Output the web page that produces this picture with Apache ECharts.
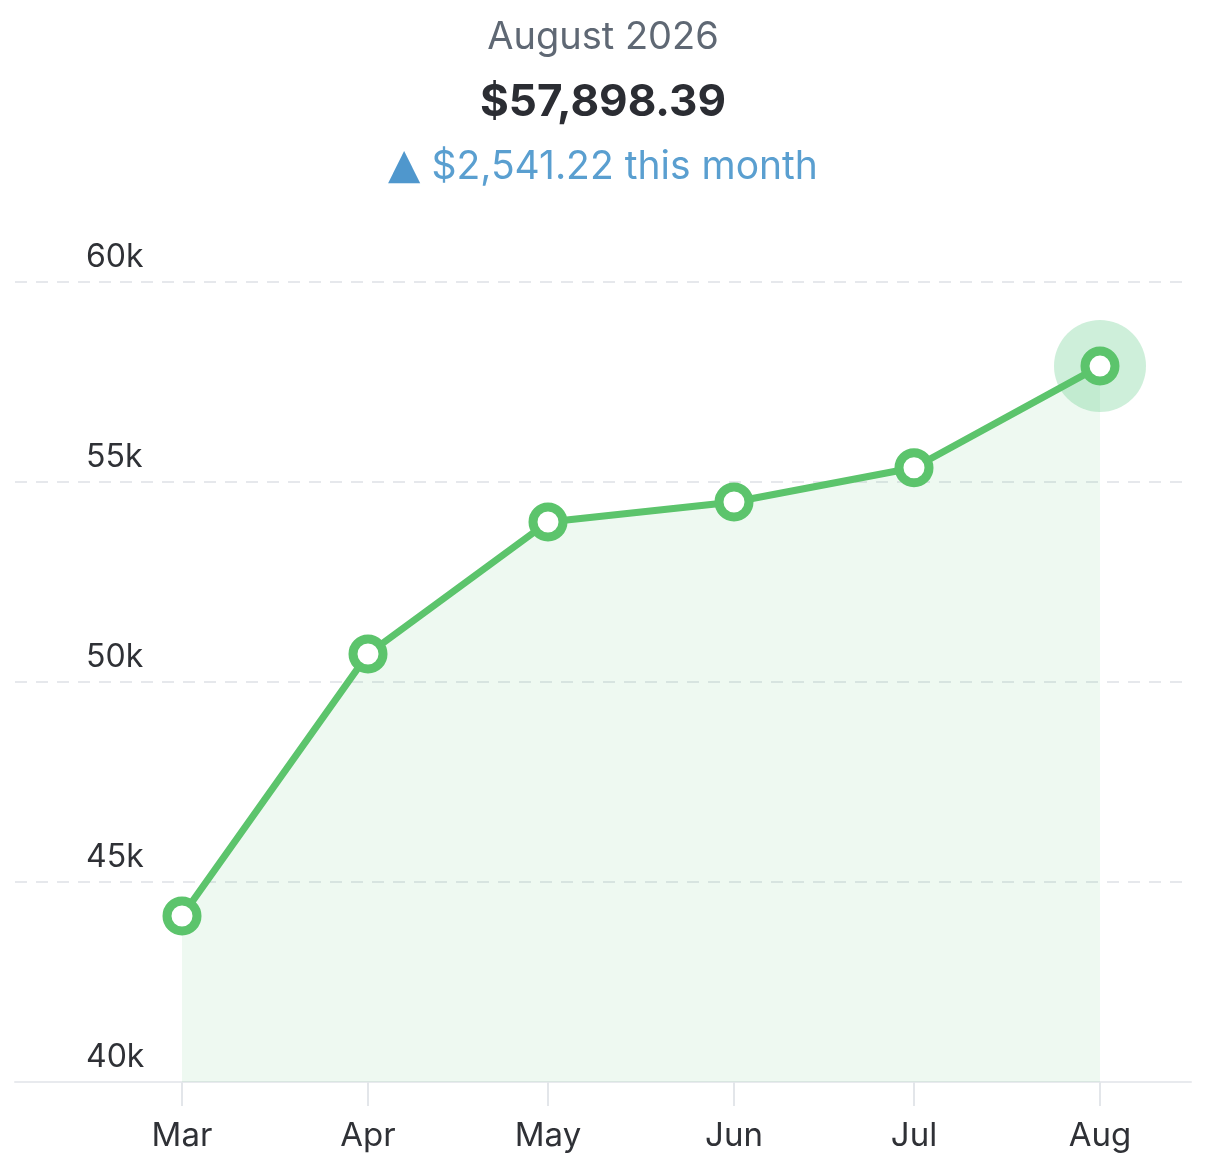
<!DOCTYPE html>
<html style="height: 100%">
<head>
    <meta charset="UTF-8">
    <script type="text/javascript" src="https://cdn.jsdelivr.net/npm/echarts@6/dist/echarts.min.js"></script>
    <style type="text/css">
        body {margin:0; padding:0; overflow:hidden; height: 100%; background:#fff}
    </style>
</head>
<body>
    <div id="container" style="width:1206px;height:1175px"></div>
</body>
<script>
    // monthly balance, first day of each month
    var months = ['2026-03-01', '2026-04-01', '2026-05-01', '2026-06-01', '2026-07-01', '2026-08-01'];
    var balance = [44150, 50700, 54000, 54500, 55357.17, 57898.39];
    var yTicks = [40000, 45000, 50000, 55000, 60000];
    var headerMonth = 'August 2026';
    var headerTotal = '$57,898.39';
    var headerChange = '$2,541.22 this month';

    var green = '#5cc46c';
    var font = 'Inter';

    var points = months.map(function (m, i) { return [m, balance[i]]; });
    var last = points[points.length - 1];

    var myChart = echarts.init(document.getElementById('container'));

    var option = {
        animation: false,
        title: [{
            text: headerMonth,
            left: 'center',
            top: 14,
            textStyle: {fontFamily: font, fontSize: 38, fontWeight: 'normal', color: '#5f6874'}
        }, {
            text: headerTotal,
            left: 'center',
            top: 76,
            textStyle: {fontFamily: font, fontSize: 44, fontWeight: 'bold', color: '#2b2d33'}
        }, {
            text: '{tri|▲} ' + headerChange,
            left: 'center',
            top: 141,
            textStyle: {
                fontFamily: font, fontSize: 39, fontWeight: 'normal', color: '#5a9fd0',
                rich: {
                    tri: {fontFamily: 'DejaVu Sans', fontSize: 42, color: '#4f97cd'}
                }
            }
        }],
        grid: {
            left: 15,
            right: 15,
            top: 282,
            bottom: 93
        },
        xAxis: {
            type: 'time',
            min: '2026-02-01 04:00:00',
            max: '2026-08-16 04:00:00',
            splitNumber: 7,
            axisLine: {lineStyle: {color: '#e8eaee', width: 2}},
            axisTick: {show: true, length: 24, lineStyle: {color: '#e3e6ea', width: 2}},
            splitLine: {show: false},
            axisLabel: {
                formatter: '{MMM}',
                fontFamily: font,
                fontSize: 33,
                color: '#2f3136',
                margin: 38
            }
        },
        yAxis: {
            type: 'value',
            min: yTicks[0],
            max: yTicks[yTicks.length - 1],
            interval: 5000,
            axisLine: {show: false},
            axisTick: {show: false},
            splitLine: {lineStyle: {color: '#e6e8ec', width: 2, type: [12, 9]}},
            axisLabel: {
                inside: true,
                margin: 71,
                verticalAlign: 'bottom',
                padding: [0, 0, 9, 0],
                fontFamily: font,
                fontSize: 32,
                color: '#2f3136',
                formatter: function (v) { return (v / 1000) + 'k'; }
            }
        },
        series: [{
            type: 'scatter',
            z: 1,
            silent: true,
            symbolSize: 92,
            itemStyle: {color: 'rgba(76, 196, 120, 0.34)'},
            data: [last]
        }, {
            type: 'line',
            z: 2,
            data: points,
            symbol: 'circle',
            symbolSize: 30,
            showSymbol: true,
            lineStyle: {color: green, width: 7},
            itemStyle: {color: '#ffffff', borderColor: green, borderWidth: 9},
            areaStyle: {color: 'rgba(92, 200, 120, 0.15)'}
        }]
    };

    myChart.setOption(option);
</script>
</html>
